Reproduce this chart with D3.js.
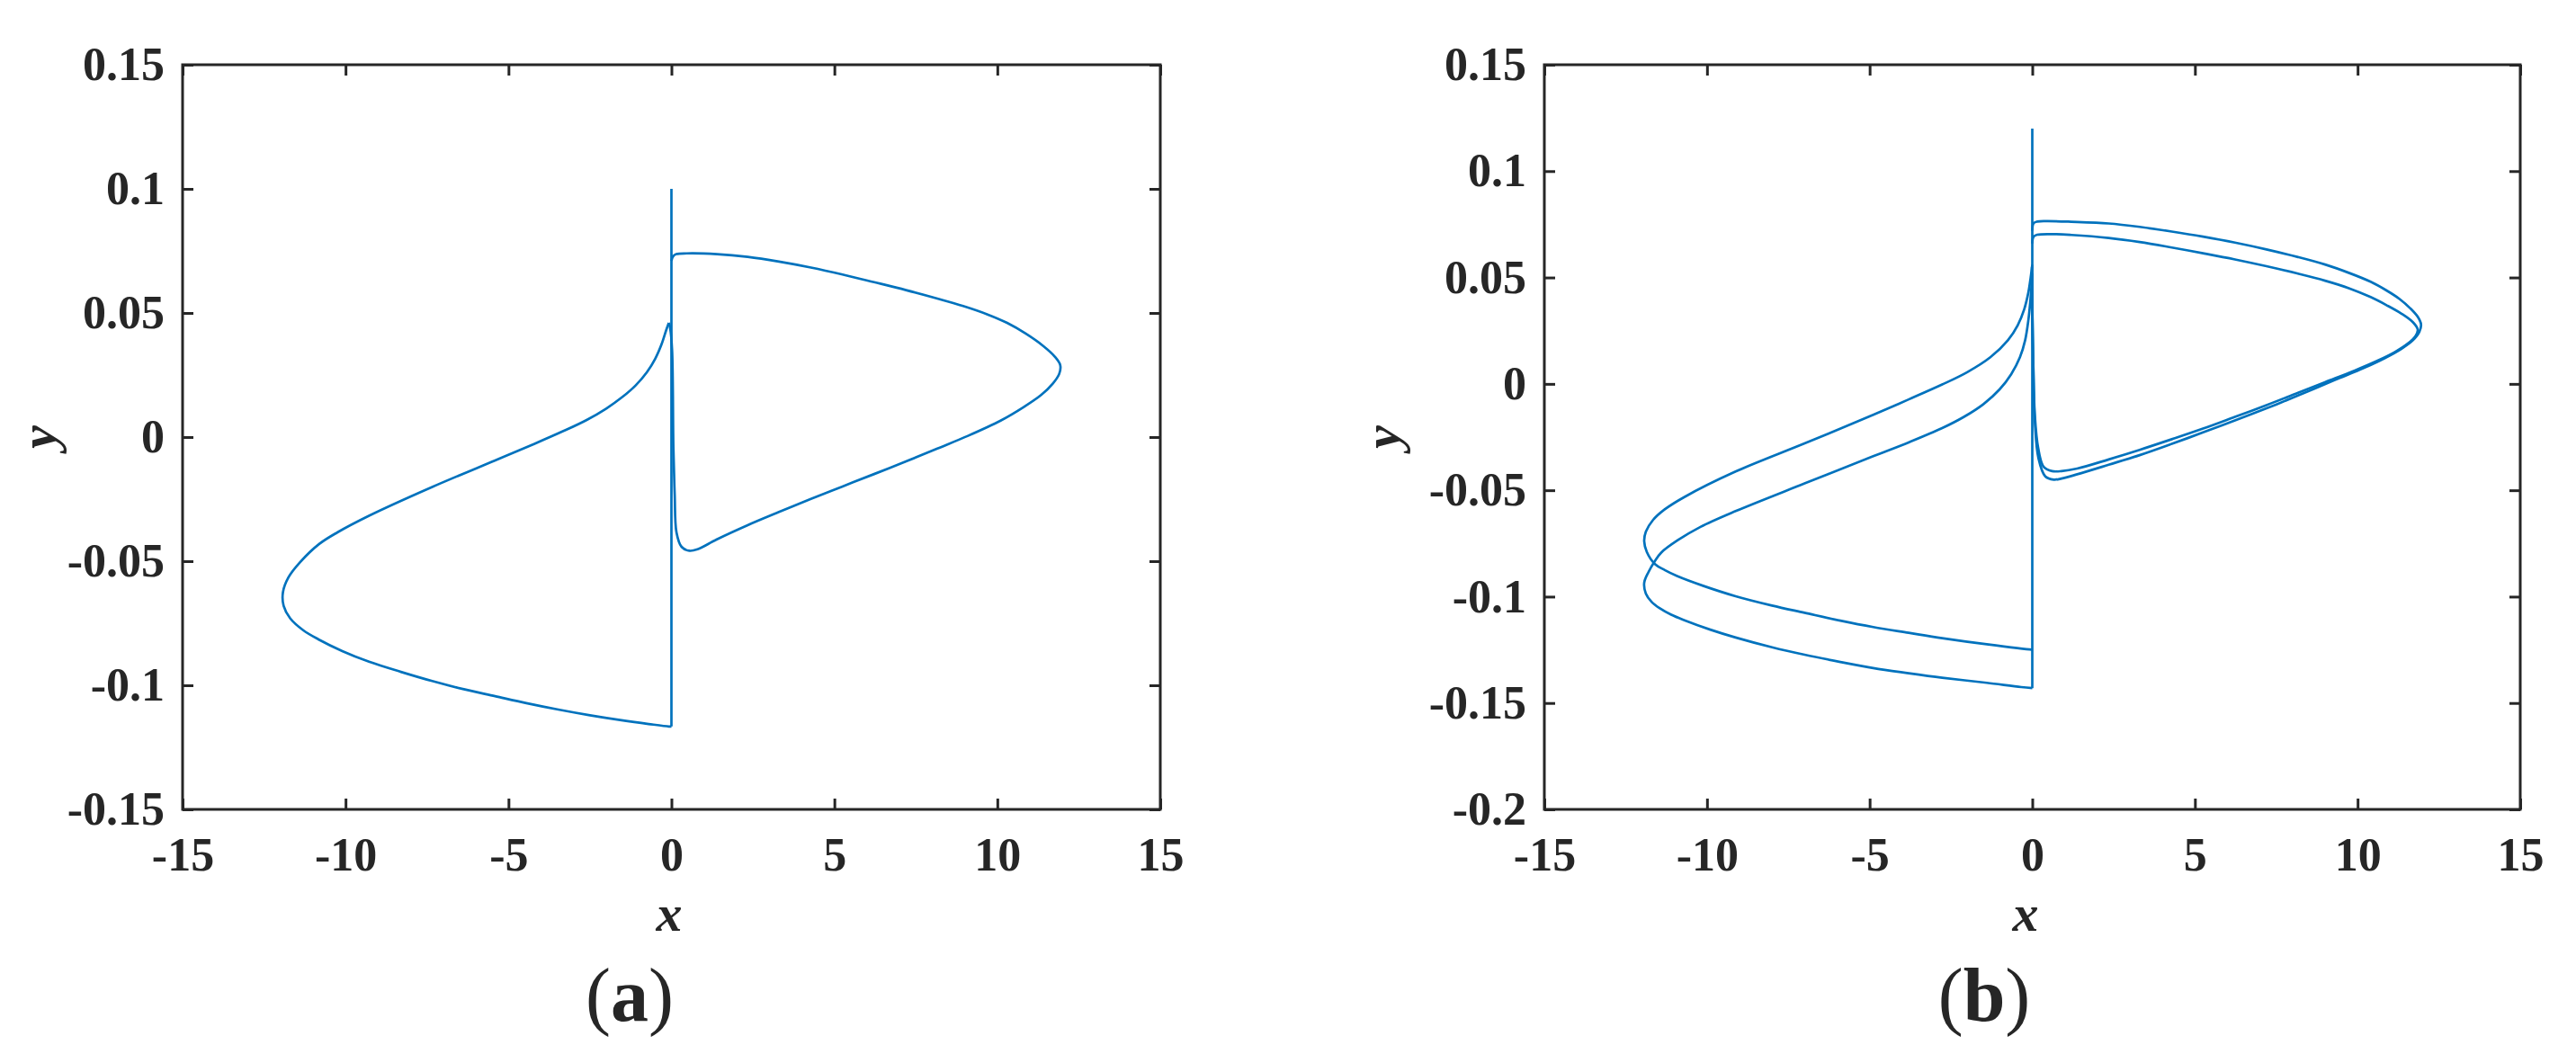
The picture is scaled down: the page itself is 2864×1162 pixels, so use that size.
<!DOCTYPE html>
<head>
<meta charset="utf-8">
<style>
  html,body { margin:0; padding:0; background:#fff; }
  svg text { font-family: "Liberation Serif", "Times New Roman", serif; fill:#262626; }
</style>
<script src="https://d3js.org/d3.v7.min.js"></script>
</head>
<body>
<div id="viz"></div>
<script>
// tick values
var xTicks = [-15, -10, -5, 0, 5, 10, 15];
var yTicksA = [-0.15, -0.1, -0.05, 0, 0.05, 0.1, 0.15];
var yTicksB = [-0.2, -0.15, -0.1, -0.05, 0, 0.05, 0.1, 0.15];

// (a) trajectory, traced as [x, y] pieces
var aSpike = [[0, -0.1166], [0, 0.1]];
var aRightLobe = [[0, 0.071], [0.05, 0.0728], [0.15, 0.0737], [0.47, 0.074], [1.4, 0.0737], [2.34, 0.0726],
  [3.3, 0.0707], [4.28, 0.0683], [5.25, 0.0655], [6.22, 0.0624], [7.2, 0.0592], [8.16, 0.0558],
  [8.95, 0.0528], [9.7, 0.0494], [10.3, 0.046], [10.87, 0.0417], [11.4, 0.0368], [11.75, 0.0326],
  [11.93, 0.029], [11.9, 0.0255], [11.7, 0.0215], [11.35, 0.017], [10.8, 0.012], [10.1, 0.0066],
  [9.1, 0.0005], [8.16, -0.0046], [7.2, -0.0098], [6.22, -0.0149], [5.25, -0.0199], [4.28, -0.0249],
  [3.3, -0.0302], [2.34, -0.0355], [1.38, -0.0413], [0.8, -0.0452], [0.55, -0.0458], [0.31, -0.0442],
  [0.155, -0.0384], [0.1, -0.023], [0.06, -0.004], [0.02, 0.035], [-0.04, 0.044], [-0.08, 0.046]];
var aLeftLobe = [[-0.08, 0.046], [-0.15, 0.0435], [-0.3, 0.0375], [-0.5, 0.0315], [-0.75, 0.0262],
  [-1.1, 0.0208], [-1.5, 0.0162], [-2.0, 0.0115], [-2.6, 0.0069], [-3.3, 0.0025], [-4.2, -0.0027],
  [-5.41, -0.0094], [-7.34, -0.0201], [-9.28, -0.0317], [-10.25, -0.0384], [-10.8, -0.043],
  [-11.4, -0.0505], [-11.75, -0.0565], [-11.92, -0.0625], [-11.9, -0.068], [-11.7, -0.073],
  [-11.3, -0.0778], [-10.83, -0.0815], [-10.1, -0.0862], [-9.28, -0.0905], [-8.3, -0.0946],
  [-7.34, -0.0983], [-6.4, -0.1015], [-5.41, -0.1044], [-4.45, -0.1072], [-3.47, -0.1098],
  [-2.5, -0.1121], [-1.53, -0.1141], [-0.7, -0.1156], [-0.08, -0.1166], [0, -0.1166]];

// (b) trajectory (two turns)
var bSpike = [[0, -0.143], [0, 0.12]];
var bRightOuter = [[0, 0.072], [0.04, 0.0755], [0.15, 0.0763], [0.45, 0.0765], [1.2, 0.0762], [2.35, 0.0754],
  [3.3, 0.0738], [4.29, 0.0716], [5.25, 0.0692], [6.23, 0.0664], [7.2, 0.0632], [8.17, 0.0596],
  [9.0, 0.0561], [9.73, 0.0522], [10.4, 0.048], [10.89, 0.0439], [11.3, 0.0398], [11.62, 0.0355],
  [11.85, 0.0315], [11.95, 0.028], [11.9, 0.0245], [11.7, 0.0205], [11.35, 0.0165], [10.85, 0.0122],
  [10.2, 0.0075], [9.3, 0.0018], [8.17, -0.0055], [7.2, -0.0115], [6.23, -0.0172], [5.25, -0.0228],
  [4.29, -0.0282], [3.3, -0.0335], [2.35, -0.038], [1.38, -0.0425], [0.9, -0.0445], [0.66, -0.045],
  [0.4, -0.0435], [0.19, -0.035], [0.08, -0.018], [0.03, 0.01], [0, 0.035], [-0.02, 0.05]];
var bRightInner = [[0, 0.066], [0.04, 0.0692], [0.15, 0.0701], [0.6, 0.0704], [1.2, 0.07], [2.35, 0.0686],
  [3.3, 0.0667], [4.29, 0.0641], [5.25, 0.0614], [6.23, 0.0585], [7.2, 0.0553], [8.17, 0.0518],
  [9.0, 0.0485], [9.73, 0.045], [10.4, 0.0408], [10.89, 0.037], [11.35, 0.033], [11.7, 0.029],
  [11.85, 0.0255], [11.78, 0.0225], [11.55, 0.019], [11.15, 0.015], [10.6, 0.0108], [9.9, 0.0062],
  [9.0, 0.0008], [8.17, -0.0042], [7.2, -0.01], [6.23, -0.0155], [5.25, -0.021], [4.29, -0.026],
  [3.3, -0.031], [2.35, -0.0355], [1.38, -0.0398], [0.9, -0.041], [0.61, -0.041], [0.35, -0.039],
  [0.18, -0.03], [0.08, -0.015], [0.03, 0.01], [0, 0.04], [-0.01, 0.055]];
var bLeftOuter = [[0, 0.056], [-0.05, 0.05], [-0.12, 0.043], [-0.25, 0.035], [-0.45, 0.0275],
  [-0.75, 0.0205], [-1.29, 0.0125], [-2.0, 0.0055], [-2.77, -0.0003], [-3.8, -0.0073], [-4.89, -0.0145],
  [-7.0, -0.028], [-9.12, -0.0412], [-10.71, -0.0533], [-11.3, -0.059], [-11.66, -0.064],
  [-11.88, -0.0695], [-11.93, -0.074], [-11.85, -0.079], [-11.6, -0.0847], [-11.3, -0.0875],
  [-10.92, -0.0903], [-10.1, -0.095], [-9.12, -0.0998], [-8.0, -0.1042], [-7.0, -0.1076],
  [-5.9, -0.1113], [-4.89, -0.1143], [-3.8, -0.117], [-2.77, -0.1195], [-1.4, -0.1224],
  [-0.02, -0.1249], [0, -0.1249]];
var bLeftInner = [[0, 0.052], [-0.02, 0.047], [-0.06, 0.039], [-0.12, 0.03], [-0.22, 0.0205],
  [-0.38, 0.0125], [-0.65, 0.0045], [-1.0, -0.0025], [-1.5, -0.0095], [-2.1, -0.0155], [-2.77, -0.0208],
  [-3.8, -0.0275], [-4.89, -0.034], [-7.0, -0.0468], [-9.12, -0.0598], [-10.2, -0.0672],
  [-10.9, -0.0735], [-11.4, -0.0792], [-11.6, -0.0832], [-11.8, -0.0885], [-11.93, -0.0935],
  [-11.88, -0.0985], [-11.7, -0.1025], [-11.45, -0.1055], [-11.1, -0.1085], [-10.71, -0.111],
  [-9.9, -0.1155], [-9.12, -0.1192], [-8.0, -0.1238], [-7.0, -0.1273], [-5.9, -0.1307],
  [-4.89, -0.1336], [-3.8, -0.136], [-2.77, -0.1381], [-1.4, -0.1405], [-0.34, -0.1425], [0, -0.143]];

var W = 2864, H = 1162;
var svg = d3.select("#viz").append("svg")
  .attr("width", W).attr("height", H);

var fmt = function (d) { return d === 0 ? "0" : String(d); };

const renderPanel = (p) => {
  var x = d3.scaleLinear().domain([-15, 15]).range([p.left, p.right]);
  var y = d3.scaleLinear().domain(p.yDomain).range([p.bottom, p.top]);
  var g = svg.append("g");

  // trajectory
  var line = d3.line()
    .x(function (d) { return x(d[0]); })
    .y(function (d) { return y(d[1]); })
    .curve(d3.curveCatmullRom.alpha(0.5));
  p.pieces.forEach(function (seg) {
    g.append("path")
      .attr("d", line(seg))
      .attr("fill", "none")
      .attr("stroke", "#0072BD")
      .attr("stroke-width", 2.7)
      .attr("stroke-linejoin", "round");
  });

  // axes, ticks pointing in
  var bottomAxis = g.append("g").attr("transform", "translate(0," + p.bottom + ")")
    .call(d3.axisBottom(x).tickValues(xTicks).tickSizeInner(-12).tickSizeOuter(0).tickPadding(31).tickFormat(fmt));
  var leftAxis = g.append("g").attr("transform", "translate(" + p.left + ",0)")
    .call(d3.axisLeft(y).tickValues(p.yTicks).tickSizeInner(-12).tickSizeOuter(0).tickPadding(20).tickFormat(fmt));
  var topAxis = g.append("g").attr("transform", "translate(0," + p.top + ")")
    .call(d3.axisTop(x).tickValues(xTicks).tickSizeInner(-12).tickSizeOuter(0).tickFormat(""));
  var rightAxis = g.append("g").attr("transform", "translate(" + p.right + ",0)")
    .call(d3.axisRight(y).tickValues(p.yTicks).tickSizeInner(-12).tickSizeOuter(0).tickFormat(""));

  [bottomAxis, leftAxis, topAxis, rightAxis].forEach(function (a) {
    a.select(".domain").remove();
    a.selectAll(".tick line").attr("stroke", "#262626").attr("stroke-width", 3);
    a.selectAll(".tick text")
      .attr("fill", "#262626")
      .style("font-family", '"Liberation Serif", "Times New Roman", serif')
      .style("font-size", "52px")
      .style("font-weight", "bold");
  });

  g.append("rect")
    .attr("x", p.left).attr("y", p.top)
    .attr("width", p.right - p.left).attr("height", p.bottom - p.top)
    .attr("fill", "none").attr("stroke", "#262626").attr("stroke-width", 3);

  // axis titles
  g.append("text")
    .attr("x", p.xLabelX).attr("y", 1035)
    .attr("text-anchor", "middle")
    .style("font-size", "58px").style("font-style", "italic").style("font-weight", "bold")
    .text("x");
  g.append("text")
    .attr("transform", "translate(" + p.yLabelX + "," + ((p.top + p.bottom) / 2) + ") rotate(-90)")
    .attr("text-anchor", "middle")
    .style("font-size", "58px").style("font-style", "italic").style("font-weight", "bold")
    .text("y");

  // panel tag
  var tag = g.append("text")
    .attr("x", p.tagX).attr("y", 1135)
    .attr("text-anchor", "middle")
    .style("font-size", "84px");
  tag.append("tspan").text("(");
  tag.append("tspan").style("font-weight", "bold").text(p.tag);
  tag.append("tspan").text(")");
};

renderPanel({
  left: 203, right: 1290, top: 72, bottom: 900,
  yDomain: [-0.15, 0.15], yTicks: yTicksA,
  pieces: [aSpike, aRightLobe, aLeftLobe],
  xLabelX: 744, yLabelX: 62, tagX: 700, tag: "a"
});

renderPanel({
  left: 1717, right: 2802, top: 72, bottom: 900,
  yDomain: [-0.2, 0.15], yTicks: yTicksB,
  pieces: [bSpike, bRightOuter, bRightInner, bLeftOuter, bLeftInner],
  xLabelX: 2252, yLabelX: 1556, tagX: 2206, tag: "b"
});
</script>
</body>
</html>
